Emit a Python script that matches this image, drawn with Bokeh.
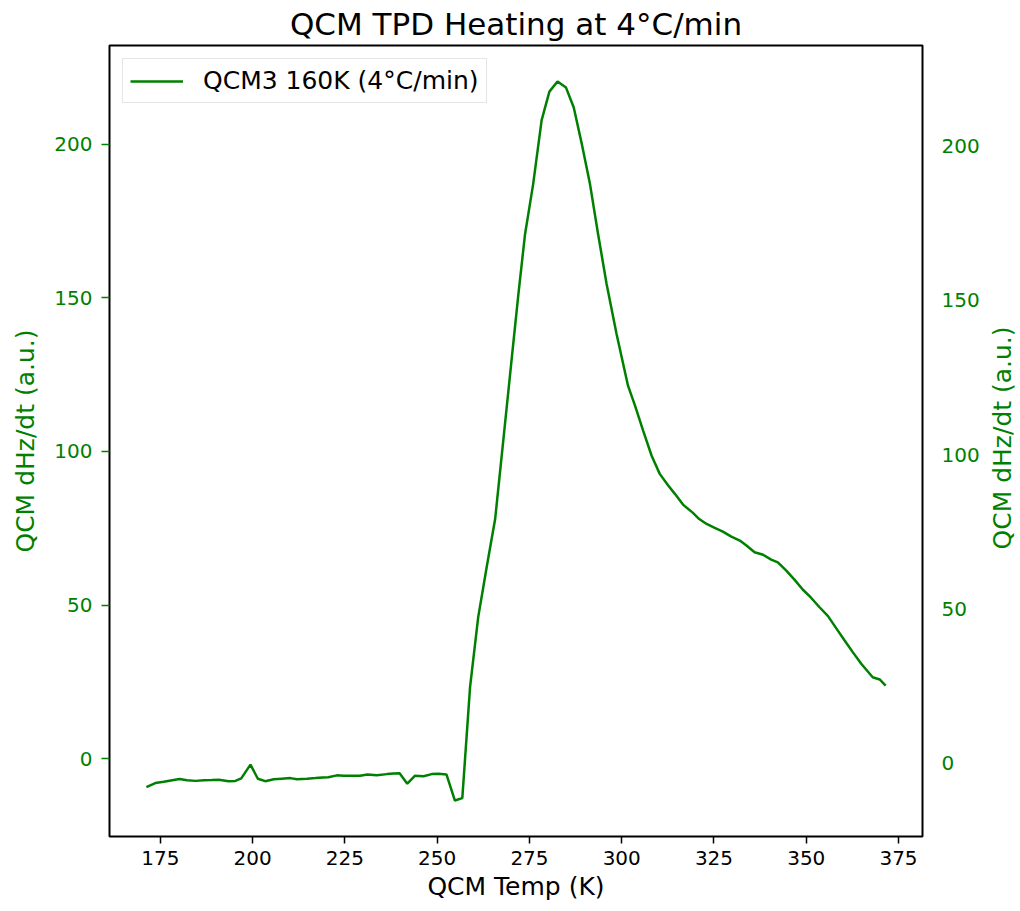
import math
from bokeh.plotting import figure
from bokeh.layouts import row
from bokeh.models import Range1d, LinearAxis, FixedTicker, Legend, LegendItem, Title, Label
from bokeh.embed import file_html
from bokeh.resources import INLINE

# ---- data ----
temp_K = [171.2, 173.6, 175.9, 178.2, 180.2, 182.2, 184.5, 186.8, 188.9, 190.8,
          193.5, 195.3, 196.9, 199.4, 201.4, 203.4, 205.7, 207.9, 210.2, 212.0,
          214.7, 217.0, 219.0, 220.5, 222.8, 224.6, 226.4, 229.1, 231.1, 233.6,
          236.4, 238.2, 239.8, 241.9, 244.0, 246.3, 248.5, 250.3, 252.5, 254.8,
          256.8, 258.9, 261.1, 263.4, 265.7, 267.9, 270.0, 272.0, 273.8, 276.0,
          278.3, 280.4, 282.6, 284.9, 287.0, 289.1, 291.4, 293.6, 295.9, 298.6,
          301.7, 303.6, 305.8, 308.1, 310.3, 312.6, 314.4, 316.6, 319.3, 321.0,
          323.0, 325.2, 327.4, 329.7, 332.0, 333.8, 336.0, 338.3, 340.5, 342.3,
          344.6, 346.8, 349.1, 351.3, 353.6, 355.9, 358.1, 360.4, 362.6, 364.9,
          368.0, 369.9, 371.5]
dhz_dt = [-9.2, -7.9, -7.5, -7.0, -6.6, -7.0, -7.2, -7.0, -6.9, -6.8,
          -7.3, -7.2, -6.4, -1.9, -6.5, -7.3, -6.7, -6.5, -6.3, -6.7,
          -6.5, -6.3, -6.1, -6.0, -5.4, -5.5, -5.5, -5.5, -5.1, -5.4,
          -5.0, -4.8, -4.7, -8.1, -5.5, -5.7, -5.0, -4.9, -5.1, -13.6,
          -12.8, 23.3, 46.0, 62.3, 78.0, 103.5, 128.0, 151.2, 170.7, 187.0,
          207.8, 217.1, 220.4, 218.4, 211.9, 200.5, 187.0, 170.7, 154.5, 138.2,
          121.4, 114.9, 106.8, 98.6, 92.7, 88.9, 86.2, 82.7, 80.0, 78.0,
          76.4, 75.1, 73.9, 72.3, 71.0, 69.4, 67.2, 66.4, 64.8, 63.9,
          61.2, 58.3, 55.0, 52.4, 49.3, 46.4, 42.5, 38.5, 34.7, 30.9,
          26.5, 25.8, 23.8]
x_ticks = [175, 200, 225, 250, 275, 300, 325, 350, 375]
y_ticks = [0, 50, 100, 150, 200]
series_label = "QCM3 160K (4°C/min)"
title_text = "QCM TPD Heating at 4°C/min"
x_label = "QCM Temp (K)"
y_label = "QCM dHz/dt (a.u.)"

GREEN = "#008000"
FONT = "DejaVu Sans"

p = figure(frame_width=813, frame_height=791,
           min_border_left=109, min_border_right=58,
           min_border_top=45, min_border_bottom=75,
           x_range=Range1d(161.2, 381.5), y_range=Range1d(-25.3, 232.1),
           output_backend="svg", toolbar_location=None,
           x_axis_location=None, y_axis_location=None)
p.title = None
p.add_layout(Title(text=title_text, text_font=FONT, text_font_size="31px",
                   text_font_style="normal", align="center", standoff=7,
                   text_color="#000000"), "above")
p.grid.visible = False
p.outline_line_color = "#000000"
p.outline_line_width = 2
p.background_fill_color = "white"
p.border_fill_color = "white"

p.extra_y_ranges = {"right": Range1d(-23.8, 232.6)}

xaxis = LinearAxis(ticker=FixedTicker(ticks=x_ticks), axis_label=x_label)
xaxis.axis_line_color = None
xaxis.major_tick_out = 7
xaxis.major_tick_in = 0
xaxis.major_tick_line_width = 1.5
xaxis.major_tick_line_color = "#000000"
xaxis.minor_tick_line_color = None
xaxis.major_label_text_font = FONT
xaxis.major_label_text_font_size = "20px"
xaxis.major_label_text_color = "#000000"
xaxis.major_label_standoff = 7
xaxis.axis_label_text_font = FONT
xaxis.axis_label_text_font_size = "25px"
xaxis.axis_label_text_font_style = "normal"
xaxis.axis_label_text_color = "#000000"
xaxis.axis_label_standoff = 4
p.add_layout(xaxis, "below")

yaxis = LinearAxis(ticker=FixedTicker(ticks=y_ticks), axis_label=y_label)
yaxis.axis_line_color = None
yaxis.major_tick_out = 8
yaxis.major_tick_in = 0
yaxis.major_tick_line_width = 1.5
yaxis.major_tick_line_color = GREEN
yaxis.minor_tick_line_color = None
yaxis.major_label_text_font = FONT
yaxis.major_label_text_font_size = "20px"
yaxis.major_label_text_color = GREEN
yaxis.major_label_standoff = 9
yaxis.axis_label_text_font = FONT
yaxis.axis_label_text_font_size = "25px"
yaxis.axis_label_text_font_style = "normal"
yaxis.axis_label_text_color = GREEN
yaxis.axis_label_standoff = 11
p.add_layout(yaxis, "left")

raxis = LinearAxis(y_range_name="right", ticker=FixedTicker(ticks=y_ticks))
raxis.axis_line_color = None
raxis.major_tick_out = 0
raxis.major_tick_in = 0
raxis.major_tick_line_color = None
raxis.minor_tick_line_color = None
raxis.major_label_text_font = FONT
raxis.major_label_text_font_size = "20px"
raxis.major_label_text_color = GREEN
raxis.major_label_standoff = 19
p.add_layout(raxis, "right")

r = p.line(temp_K, dhz_dt, line_color=GREEN, line_width=2.5)

legend = Legend(items=[LegendItem(label=series_label, renderers=[r])],
                location="top_left", margin=13, padding=7,
                glyph_width=53, label_standoff=20,
                label_text_font=FONT, label_text_font_size="25px",
                label_text_color="#000000",
                border_line_color="#cccccc", border_line_width=1.5,
                background_fill_color="white", background_fill_alpha=0.8)
p.add_layout(legend)

# narrow strip holding the right-hand axis title (reads bottom-to-top)
side = figure(width=40, height=911, min_border=0,
              x_range=Range1d(0, 40), y_range=Range1d(0, 911),
              output_backend="svg", toolbar_location=None,
              x_axis_location=None, y_axis_location=None)
side.grid.visible = False
side.outline_line_color = None
side.background_fill_color = "white"
side.border_fill_color = "white"
side.add_layout(Label(x=20, y=459, text=y_label, angle=math.pi / 2,
                      text_align="center", text_baseline="middle",
                      text_font=FONT, text_font_size="25px", text_color=GREEN))

layout = row(p, side, spacing=0)
open("out.html", "w").write(file_html(layout, INLINE))
